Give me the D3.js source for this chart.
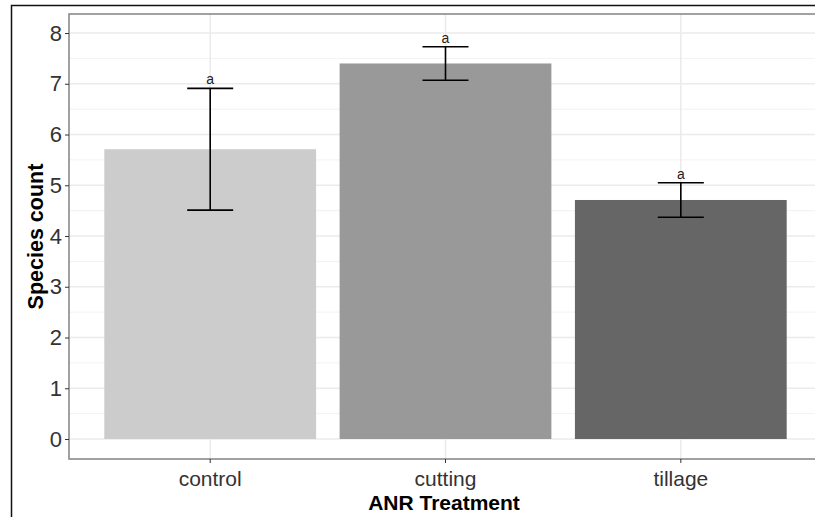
<!DOCTYPE html>
<html>
<head>
<meta charset="utf-8">
<script src="https://cdn.jsdelivr.net/npm/d3@7"></script>
<style>
  body { margin: 0; background: #fff; }
  svg { display: block; font-family: "Liberation Sans", Arial, sans-serif; }
</style>
</head>
<body>
<svg id="chart" width="815" height="517"></svg>
<script>
// data
const treatments = ["control", "cutting", "tillage"];
const meanCount = [5.71, 7.4, 4.71];
const seCount = [1.2, 0.33, 0.34];
const groupLetters = ["a", "a", "a"];
const barColors = ["#cccccc", "#999999", "#666666"];
const yTicks = [0, 1, 2, 3, 4, 5, 6, 7, 8];

const svg = d3.select("#chart");

// panel box (right side runs off the cropped image)
const panel = { left: 69, top: 14, right: 822, bottom: 459 };

const x = d3.scaleBand()
  .domain(treatments)
  .range([panel.left, panel.right])
  .paddingInner(0.1)
  .paddingOuter(0.15);

const y = d3.scaleLinear()
  .domain([-0.394, 8.375])
  .range([panel.bottom, panel.top]);

// outer frame of the screenshot
svg.append("rect")
  .attr("x", 11.5).attr("y", 5.5)
  .attr("width", 900).attr("height", 600)
  .attr("fill", "none").attr("stroke", "#111").attr("stroke-width", 1.5);

// minor grid
const minor = d3.range(0.5, 8.5, 1);
svg.append("g").selectAll("line").data(minor).join("line")
  .attr("x1", panel.left).attr("x2", panel.right)
  .attr("y1", d => y(d)).attr("y2", d => y(d))
  .attr("stroke", "#f2f2f2").attr("stroke-width", 1);

// major grid
svg.append("g").selectAll("line").data(yTicks).join("line")
  .attr("x1", panel.left).attr("x2", panel.right)
  .attr("y1", d => y(d)).attr("y2", d => y(d))
  .attr("stroke", "#ebebeb").attr("stroke-width", 1.6);

svg.append("g").selectAll("line").data(treatments).join("line")
  .attr("x1", d => x(d) + x.bandwidth() / 2).attr("x2", d => x(d) + x.bandwidth() / 2)
  .attr("y1", panel.top).attr("y2", panel.bottom)
  .attr("stroke", "#ebebeb").attr("stroke-width", 1.6);

// bars
svg.append("g").selectAll("rect").data(treatments).join("rect")
  .attr("x", d => x(d))
  .attr("width", x.bandwidth())
  .attr("y", (d, i) => y(meanCount[i]))
  .attr("height", (d, i) => y(0) - y(meanCount[i]))
  .attr("fill", (d, i) => barColors[i]);

// error bars
const capHalf = 23;
const eb = svg.append("g").attr("stroke", "#000").attr("stroke-width", 1.6);
treatments.forEach((t, i) => {
  const cx = x(t) + x.bandwidth() / 2;
  const hi = y(meanCount[i] + seCount[i]);
  const lo = y(meanCount[i] - seCount[i]);
  eb.append("line").attr("x1", cx).attr("x2", cx).attr("y1", hi).attr("y2", lo);
  eb.append("line").attr("x1", cx - capHalf).attr("x2", cx + capHalf).attr("y1", hi).attr("y2", hi);
  eb.append("line").attr("x1", cx - capHalf).attr("x2", cx + capHalf).attr("y1", lo).attr("y2", lo);
});

// letters above error bars
svg.append("g").selectAll("text").data(treatments).join("text")
  .attr("x", d => x(d) + x.bandwidth() / 2)
  .attr("y", (d, i) => y(meanCount[i] + seCount[i]) - 4)
  .attr("text-anchor", "middle")
  .attr("font-size", 14)
  .attr("fill", "#222")
  .text((d, i) => groupLetters[i]);

// panel border
svg.append("rect")
  .attr("x", panel.left).attr("y", panel.top)
  .attr("width", panel.right - panel.left).attr("height", panel.bottom - panel.top)
  .attr("fill", "none").attr("stroke", "#8a8a8a").attr("stroke-width", 1.6);

// axes
const yAxis = svg.append("g")
  .attr("transform", `translate(${panel.left},0)`)
  .call(d3.axisLeft(y).tickValues(yTicks).tickSize(4).tickPadding(3).tickFormat(d3.format("d")));
yAxis.select(".domain").remove();
yAxis.selectAll(".tick line").attr("stroke", "#333");
yAxis.selectAll(".tick text").attr("font-size", 22).attr("fill", "#333")
  .attr("font-family", "Liberation Sans, Arial, sans-serif");

const xAxis = svg.append("g")
  .attr("transform", `translate(0,${panel.bottom})`)
  .call(d3.axisBottom(x).tickSize(4).tickPadding(8));
xAxis.select(".domain").remove();
xAxis.selectAll(".tick line").attr("stroke", "#333");
xAxis.selectAll(".tick text").attr("font-size", 21).attr("fill", "#333")
  .attr("font-family", "Liberation Sans, Arial, sans-serif");

// titles
svg.append("text")
  .attr("x", 444).attr("y", 510)
  .attr("text-anchor", "middle")
  .attr("font-size", 21).attr("font-weight", "bold")
  .text("ANR Treatment");

svg.append("text")
  .attr("transform", `translate(43,${(panel.top + panel.bottom) / 2}) rotate(-90)`)
  .attr("text-anchor", "middle")
  .attr("font-size", 21.5).attr("font-weight", "bold")
  .text("Species count");
</script>
</body>
</html>
